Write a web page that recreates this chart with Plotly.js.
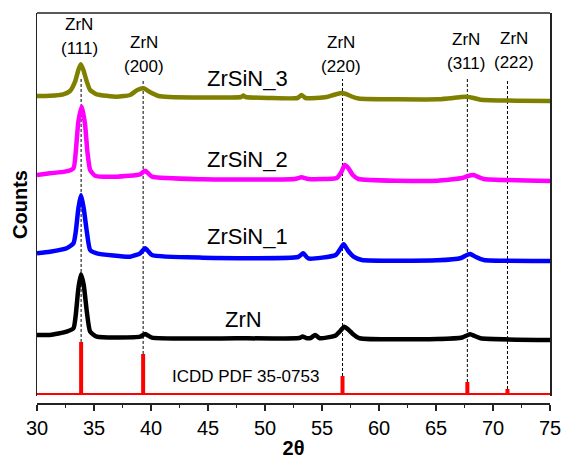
<!DOCTYPE html>
<html>
<head>
<meta charset="utf-8">
<script src="https://cdn.plot.ly/plotly-3.0.1.min.js"></script>
<style>html,body{margin:0;padding:0;background:#fff;}#chart{width:564px;height:461px;}</style>
</head>
<body>
<div id="chart"></div>
<script>
// ---- Data (2θ in degrees, counts in arbitrary offset units) ----
const zrsin3X = [30, 31.14, 32.3, 32.9, 33.34, 33.63, 33.84, 34.07, 34.37, 34.66, 35.25, 37.0, 38.17, 38.8, 39.34, 39.93, 40.66, 41.6, 47.9, 48.1, 48.3, 50.4, 52.85, 53.2, 53.55, 55.4, 56.0, 56.7, 57.1, 57.6, 58.2, 65.1, 66.5, 67.2, 67.7, 68.3, 68.9, 75];
const zrsin3Y = [298, 298.3, 299.7, 303, 312.3, 324, 329.7, 324, 312.3, 304, 299.7, 297.3, 299, 304, 305.7, 301.7, 298, 297, 297, 298.5, 297, 296, 296, 299, 296, 297, 299, 301, 300, 297.5, 295.5, 294.7, 296, 297, 297.3, 296, 294.3, 293];

const zrsin2X = [30, 31.14, 32.45, 33.2, 33.4, 33.63, 33.93, 34.22, 34.42, 34.66, 35.1, 37.0, 39.05, 39.49, 40.08, 44.55, 52.6, 53.2, 53.8, 56.3, 56.7, 57.0, 57.3, 57.7, 58.2, 65.1, 67.3, 67.8, 68.3, 68.7, 69.2, 75];
const zrsin2Y = [219, 220.7, 222.3, 225.7, 242.3, 272.3, 287.3, 269, 242.3, 224, 218.3, 217.3, 219.7, 223.3, 217.3, 214.7, 215, 216.7, 215, 216, 222, 229, 226, 219, 215, 213.3, 216, 218, 219, 217, 215, 213];

const zrsin1X = [30, 31.14, 32.6, 33.2, 33.4, 33.63, 33.86, 34.1, 34.37, 34.66, 35.25, 38.17, 39.05, 39.49, 40.08, 44.55, 52.9, 53.35, 53.8, 56.2, 56.6, 56.9, 57.3, 57.8, 58.5, 65.1, 67.2, 67.7, 68.0, 68.5, 69.2, 75];
const zrsin1Y = [140.7, 142.3, 145.7, 150.7, 162.3, 185.7, 199, 185.7, 162.3, 144, 140.7, 137.3, 140.7, 145.7, 139, 136.3, 137, 140.7, 135.5, 139, 145, 149.7, 143, 137, 134, 133.7, 136, 139, 140, 137, 134, 133];

const zrnX = [30, 31.14, 32.6, 33.2, 33.4, 33.63, 33.86, 34.1, 34.37, 34.66, 35.25, 39.05, 39.49, 40.08, 47.5, 53.0, 53.3, 53.6, 54.0, 54.4, 54.8, 56.2, 56.6, 56.95, 57.3, 57.7, 58.3, 65.1, 67.3, 67.7, 68.0, 68.4, 68.9, 75];
const zrnY = [59, 59, 62.3, 65.7, 79, 105.7, 119.7, 109, 82.3, 62.3, 57.3, 57.3, 60, 56.3, 55.7, 56, 57.5, 56, 56, 59, 55.7, 58.5, 63, 67.3, 64.5, 60, 55.7, 55, 56.5, 58.5, 59.7, 58, 55.7, 54];

// ICDD PDF 35-0753 reference lines
const icddPos = [33.87, 39.31, 56.80, 67.75, 71.27];
const icddInt = [52, 40, 18, 12, 5];
const hklLabels = ['(111)', '(200)', '(220)', '(311)', '(222)'];
const hklLabelX = [33.7, 39.4, 56.63, 67.6, 71.87];

const sampleNames = ['ZrSiN_3', 'ZrSiN_2', 'ZrSiN_1', 'ZrN'];
const sampleLabelX = [48.45, 48.45, 48.5, 48.07];
const sampleLabelY = [315.5, 234, 157.3, 74];

// ---- Build traces ----
const stickX = [], stickY = [];
icddPos.forEach((p, i) => { stickX.push(p, p, null); stickY.push(0, icddInt[i], null); });

const lw = 4.5;
const traces = [
  {x: [30, 75], y: [0, 0], mode: 'lines', line: {color: '#FF0000', width: 2}, hoverinfo: 'skip'},
  {x: stickX, y: stickY, mode: 'lines', line: {color: '#FF0000', width: 4}, hoverinfo: 'skip'},
  {x: zrnX, y: zrnY, mode: 'lines', line: {color: '#000000', width: lw, shape: 'spline', smoothing: 0.5}},
  {x: zrsin1X, y: zrsin1Y, mode: 'lines', line: {color: '#0000FF', width: lw, shape: 'spline', smoothing: 0.5}},
  {x: zrsin2X, y: zrsin2Y, mode: 'lines', line: {color: '#FF00FF', width: lw, shape: 'spline', smoothing: 0.5}},
  {x: zrsin3X, y: zrsin3Y, mode: 'lines', line: {color: '#808000', width: lw, shape: 'spline', smoothing: 0.5}}
];

const dashTop = 315;
const shapes = icddPos.map((p, i) => ({
  type: 'line', xref: 'x', yref: 'y', layer: 'below',
  x0: p, x1: p, y0: icddInt[i], y1: dashTop,
  line: {color: '#000000', width: 1, dash: '3px,2px'}
}));
shapes.push({type: 'line', xref: 'paper', yref: 'paper', x0: 0, x1: 1, y0: 1, y1: 1,
  line: {color: '#222222', width: 1.5}});

const font = 'Arial, "Liberation Sans", sans-serif';
const annotations = [];
const zrnLabelY = [370, 352, 352, 355, 356];
hklLabels.forEach((h, i) => {
  annotations.push({x: hklLabelX[i], y: zrnLabelY[i], text: 'ZrN', showarrow: false,
    font: {family: font, size: 17, color: '#000'}, xanchor: 'center', yanchor: 'middle'});
  annotations.push({x: hklLabelX[i], y: zrnLabelY[i] - 24.5, text: h, showarrow: false,
    font: {family: font, size: 17, color: '#000'}, xanchor: 'center', yanchor: 'middle'});
});
sampleNames.forEach((n, i) => {
  annotations.push({x: sampleLabelX[i], y: sampleLabelY[i], text: n, showarrow: false,
    font: {family: font, size: 22, color: '#000'}, xanchor: 'center', yanchor: 'middle'});
});
annotations.push({x: 48.28, y: 17, text: 'ICDD PDF 35-0753', showarrow: false,
  font: {family: font, size: 17, color: '#000'}, xanchor: 'center', yanchor: 'middle'});

const layout = {
  width: 564, height: 461,
  margin: {l: 37, r: 14, t: 13, b: 58},
  paper_bgcolor: '#fff', plot_bgcolor: '#fff',
  showlegend: false,
  font: {family: font, color: '#000'},
  xaxis: {
    range: [30, 75], anchor: 'free', position: 0,
    showline: true, linecolor: '#222222', linewidth: 1.5,
    ticks: 'outside', ticklen: 6, tickwidth: 1.5, tickcolor: '#222222',
    dtick: 5, tick0: 30,
    minor: {dtick: 2.5, ticks: 'outside', ticklen: 3, tickwidth: 1.5, tickcolor: '#222222'},
    showgrid: false, zeroline: false,
    tickfont: {family: font, size: 20, color: '#000'},
    title: {text: '<b>2θ</b>', font: {family: font, size: 20, color: '#000'}, standoff: 3}
  },
  yaxis: {
    range: [-2, 381], domain: [0.018, 1],
    showline: true, mirror: true, linecolor: '#222222', linewidth: 1.5,
    ticks: '', showticklabels: false, showgrid: false, zeroline: false,
    title: {text: '<b>Counts</b>', font: {family: font, size: 20, color: '#000'}, standoff: 2}
  },
  shapes: shapes,
  annotations: annotations
};

Plotly.newPlot('chart', traces, layout, {displayModeBar: false, staticPlot: true});
</script>
</body>
</html>
